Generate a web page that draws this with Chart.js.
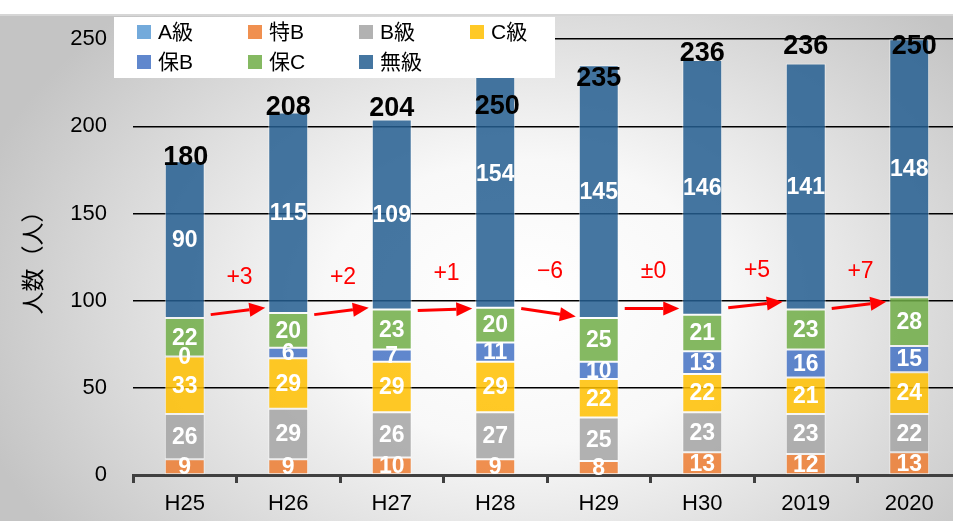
<!DOCTYPE html>
<html>
<head>
<meta charset="utf-8">
<script src="https://cdn.jsdelivr.net/npm/chart.js@4.4.1/dist/chart.umd.min.js"></script>
<style>
  html, body { margin: 0; padding: 0; background: #fff; }
  #wrap {
    position: relative; width: 953px; height: 521px; overflow: hidden;
    background: radial-gradient(ellipse 60% 78% at 55% 58%, #ffffff 0%, #f8f8f8 35%, #c4c4c4 100%);
  }
  #topband {
    position: absolute; left: 0; top: 0; width: 953px; height: 14px;
    background: #fff; border-bottom: 2px solid #d6d6d6;
  }
  #chart { position: absolute; left: 0; top: 0; }
</style>
</head>
<body>
<div id="wrap">
  <div id="topband"></div>
  <canvas id="chart" width="961" height="521" style="width:961px;height:521px"></canvas>
</div>
<script>
const years = ['H25', 'H26', 'H27', 'H28', 'H29', 'H30', '2019', '2020'];
const gradeA = [0, 0, 0, 0, 0, 0, 0, 0];
const tokuB = [9, 9, 10, 9, 8, 13, 12, 13];
const gradeB = [26, 29, 26, 27, 25, 23, 23, 22];
const gradeC = [33, 29, 29, 29, 22, 22, 21, 24];
const hoB = [0, 6, 7, 11, 10, 13, 16, 15];
const hoC = [22, 20, 23, 20, 25, 21, 23, 28];
const mukyu = [90, 115, 109, 154, 145, 146, 141, 148];
const totals = [180, 208, 204, 250, 235, 236, 236, 250];
// year-on-year change of graded people, drawn as red arrows between bars
const changes = ['+3', '+2', '+1', '\u22126', '\u00b10', '+5', '+7'];
const arrowFrom = [92, 92, 94.3, 95.5, 95.5, 96, 95.5];
const arrowTo = [96, 96, 95.5, 90.9, 95.5, 99.4, 99.4];

const FONT = "'Liberation Sans', 'Noto Sans CJK JP', sans-serif";
Chart.defaults.font.family = FONT;
Chart.defaults.color = '#000';

const series = [
    { label: 'A級', data: gradeA, color: 'rgba(91,155,213,0.85)' },
    { label: '特B', data: tokuB, color: 'rgba(237,125,49,0.85)' },
    { label: 'B級', data: gradeB, color: 'rgba(165,165,165,0.85)' },
    { label: 'C級', data: gradeC, color: 'rgba(255,192,0,0.85)' },
    { label: '保B', data: hoB, color: 'rgba(68,114,196,0.85)' },
    { label: '保C', data: hoC, color: 'rgba(112,173,71,0.85)' },
    { label: '無級', data: mukyu, color: 'rgba(37,94,145,0.85)' }
];

// white numbers inside each segment
const segmentLabels = {
    id: 'segmentLabels',
    afterDatasetsDraw(chart) {
        const ctx = chart.ctx;
        ctx.save();
        ctx.fillStyle = '#fff';
        ctx.font = 'bold 23px ' + FONT;
        ctx.textAlign = 'center';
        ctx.textBaseline = 'middle';
        chart.data.datasets.forEach((ds, di) => {
            if (di === 0) return; // A級 not labelled
            chart.getDatasetMeta(di).data.forEach((el, i) => {
                const p = el.getProps(['x', 'y', 'base'], true);
                ctx.fillText(String(ds.data[i]), p.x, (p.y + p.base) / 2 + 1);
            });
        });
        ctx.restore();
    }
};

// totals above bars (baseline shift from bar top, px)
const totalLabels = {
    id: 'totalLabels',
    afterDatasetsDraw(chart, args, opts) {
        const ctx = chart.ctx;
        const top = chart.getDatasetMeta(chart.data.datasets.length - 1).data;
        ctx.save();
        ctx.fillStyle = '#000';
        ctx.font = 'bold 27px ' + FONT;
        ctx.textAlign = 'center';
        ctx.textBaseline = 'alphabetic';
        top.forEach((el, i) => {
            const p = el.getProps(['x', 'y'], true);
            ctx.fillText(String(totals[i]), p.x + (opts.dx[i] || 0), p.y + opts.shift[i]);
        });
        ctx.restore();
    }
};

const changeArrows = {
    id: 'changeArrows',
    afterDatasetsDraw(chart) {
        const ctx = chart.ctx;
        const y = chart.scales.y;
        const bars = chart.getDatasetMeta(chart.data.datasets.length - 1).data;
        ctx.save();
        ctx.strokeStyle = '#ff0000';
        ctx.fillStyle = '#ff0000';
        ctx.lineWidth = 3;
        for (let i = 0; i < changes.length; i++) {
            const a = bars[i].getProps(['x', 'width'], true);
            const b = bars[i + 1].getProps(['x', 'width'], true);
            const x0 = a.x + a.width / 2 + 6;
            const x1 = b.x - b.width / 2 - 3;
            const y0 = y.getPixelForValue(arrowFrom[i]);
            const y1 = y.getPixelForValue(arrowTo[i]);
            const ang = Math.atan2(y1 - y0, x1 - x0);
            const hl = 16, hw = 7;
            const bx = x1 - hl * Math.cos(ang), by = y1 - hl * Math.sin(ang);
            ctx.beginPath();
            ctx.moveTo(x0, y0);
            ctx.lineTo(bx, by);
            ctx.stroke();
            ctx.beginPath();
            ctx.moveTo(x1, y1);
            ctx.lineTo(bx + hw * Math.sin(ang), by - hw * Math.cos(ang));
            ctx.lineTo(bx - hw * Math.sin(ang), by + hw * Math.cos(ang));
            ctx.closePath();
            ctx.fill();

            ctx.font = '23px ' + FONT;
            ctx.textAlign = 'center';
            ctx.textBaseline = 'middle';
            ctx.fillText(changes[i], (a.x + b.x) / 2 + 3, y0 - 37);
        }
        ctx.restore();
    }
};

// legend box sits on top of the plot, like the original
const boxLegend = {
    id: 'boxLegend',
    afterDraw(chart) {
        const ctx = chart.ctx;
        ctx.save();
        ctx.fillStyle = '#fff';
        ctx.fillRect(114, 17, 441, 61);
        ctx.font = '21px ' + FONT;
        ctx.textAlign = 'left';
        ctx.textBaseline = 'middle';
        series.forEach((s, i) => {
            const col = i % 4, row = Math.floor(i / 4);
            const x = 137 + col * 111;
            const yy = 32 + row * 30;
            ctx.fillStyle = s.color;
            ctx.fillRect(x, yy - 7, 14, 14);
            ctx.fillStyle = '#000';
            ctx.fillText(s.label, x + 21, yy + 1);
        });
        ctx.restore();
    }
};

new Chart(document.getElementById('chart'), {
    type: 'bar',
    data: {
        labels: years,
        datasets: series.map(s => ({
            label: s.label,
            data: s.data,
            backgroundColor: s.color,
            borderColor: 'rgba(255,255,255,0.55)',
            borderWidth: 1,
            borderSkipped: false,
            categoryPercentage: 1,
            barPercentage: 0.386
        }))
    },
    options: {
        responsive: false,
        animation: false,
        layout: { padding: { top: 35, right: 0, bottom: 0, left: 0 } },
        plugins: {
            legend: { display: false },
            tooltip: { enabled: false },
            totalLabels: {
                shift: [4, 3, -3, 75, 21, 1, -10, 15],
                dx: [1, 0, 0, 2, 0, 0, 0, 5]
            }
        },
        scales: {
            x: {
                stacked: true,
                grid: {
                    drawOnChartArea: false,
                    drawTicks: true,
                    tickLength: 8,
                    color: '#404040',
                    lineWidth: 3
                },
                border: { display: true, color: '#404040', width: 3 },
                ticks: { font: { size: 22 }, color: '#000', padding: 8 },
                afterFit(scale) { scale.height = 46; }
            },
            y: {
                stacked: true,
                min: 0,
                max: 250,
                ticks: { stepSize: 50, font: { size: 22 }, color: '#000', padding: 26 },
                grid: { color: '#000', lineWidth: 1.5, drawTicks: false },
                border: { display: false },
                title: {
                    display: true,
                    text: '人数（人）',
                    font: { size: 23 },
                    color: '#000',
                    padding: { top: 21, bottom: 0 }
                },
                afterFit(scale) { scale.width = 133; }
            }
        }
    },
    plugins: [segmentLabels, totalLabels, changeArrows, boxLegend]
});
</script>
</body>
</html>
